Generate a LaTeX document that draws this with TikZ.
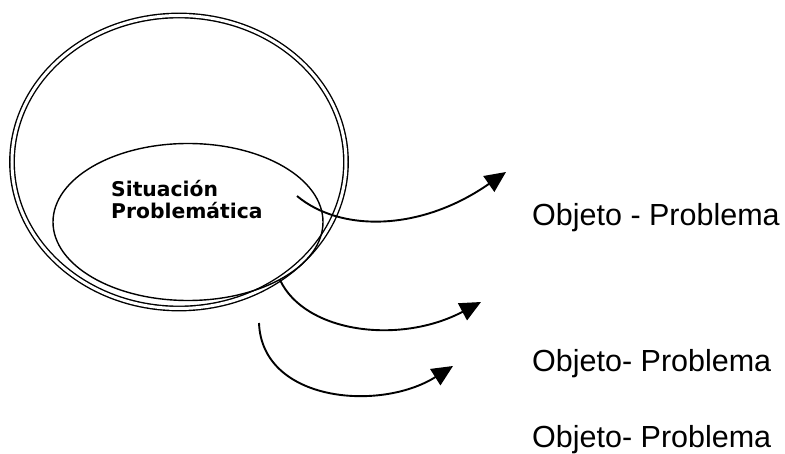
\documentclass[tikz,border=0pt]{standalone}
\usepackage{fontspec}
\setmainfont{Liberation Sans}
\newfontfamily\sitfont{DejaVu Sans}
\usetikzlibrary{shapes.geometric,arrows.meta}
\tikzset{
  outerell/.style={draw, ellipse, double, line width=1.4pt, double distance=3pt, inner sep=0pt},
  innerell/.style={draw, ellipse, line width=1.4pt, inner sep=0pt},
  sitlabel/.style={anchor=base west, inner sep=0pt, font=\sitfont\bfseries\fontsize{20.3pt}{22pt}\selectfont},
  objlabel/.style={anchor=base west, inner sep=0pt, font=\fontsize{30.5pt}{36pt}\selectfont},
  curvedarrow/.style={line width=1.9pt, -{Triangle[length=21pt,width=19pt]}}
}
\begin{document}
\begin{tikzpicture}[x=1pt,y=-1pt]
\useasboundingbox (0,0) rectangle (785,454);
\node[outerell, minimum width=334pt, minimum height=293pt] (outer) at (179,162) {};
\node[innerell, minimum width=270pt, minimum height=157pt] (inner) at (188,222) {};
\node[sitlabel] (sit1) at (111,197) {Situación};
\node[sitlabel] (sit2) at (111,219) {Problemática};
\node[objlabel] (obj1) at (532,226) {Objeto - Problema};
\node[objlabel] (obj2) at (532,372) {Objeto- Problema};
\node[objlabel] (obj3) at (532,447) {Objeto- Problema};
\coordinate (a1s) at (297,196);
\coordinate (a1e) at (506,172);
\coordinate (a2s) at (280,280);
\coordinate (a2e) at (481,302);
\coordinate (a3s) at (259,323);
\coordinate (a3e) at (453,366);
\draw[curvedarrow] (a1s) .. controls (340,232) and (420,232) .. (a1e);
\draw[curvedarrow] (a2s) .. controls (305,333) and (400,345) .. (a2e);
\draw[curvedarrow] (a3s) .. controls (262,402) and (380,412) .. (a3e);
\end{tikzpicture}
\end{document}
